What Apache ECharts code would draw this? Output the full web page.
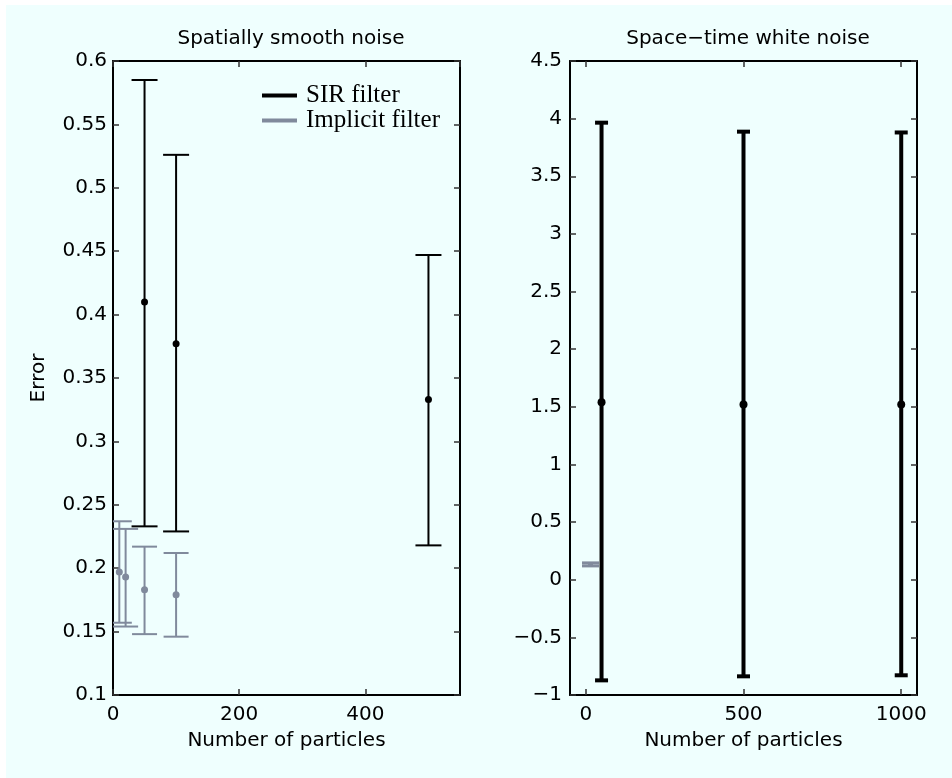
<!DOCTYPE html>
<html>
<head>
<meta charset="utf-8">
<script src="https://cdn.jsdelivr.net/npm/echarts@6/dist/echarts.min.js"></script>
<style>
    html, body { margin: 0; padding: 0; background: #ffffff; }
    #chart { width: 952px; height: 778px; }
</style>
</head>
<body>
<div id="chart"></div>
<script>
// left panel: spatially smooth noise
const smoothSirX = [50, 100, 500];
const smoothSirMean = [0.41, 0.377, 0.333];
const smoothSirLow = [0.233, 0.229, 0.218];
const smoothSirHigh = [0.585, 0.526, 0.447];

const smoothImpX = [10, 20, 50, 100];
const smoothImpMean = [0.197, 0.193, 0.183, 0.179];
const smoothImpLow = [0.157, 0.154, 0.148, 0.146];
const smoothImpHigh = [0.237, 0.231, 0.217, 0.212];

// right panel: space-time white noise
const whiteSirX = [50, 500, 1000];
const whiteSirMean = [1.54, 1.52, 1.52];
const whiteSirLow = [-0.873, -0.838, -0.829];
const whiteSirHigh = [3.965, 3.887, 3.88];

const whiteImpX = [15];
const whiteImpMean = [0.133];
const whiteImpLow = [0.12];
const whiteImpHigh = [0.146];

const rightXTicks = [0, 500, 1000];

const BLACK = '#000000';
const GREY = '#808a9c';
const FONT = 'DejaVu Sans';

const rows = (x, m, lo, hi) => x.map((v, i) => [v, m[i], lo[i], hi[i]]);

// error bar: vertical line + caps + dot at mean
const errorBar = (capHalf, lineW, dotR) => (params, api) => {
    const color = api.visual('color');
    const top = api.coord([api.value(0), api.value(3)]);
    const bot = api.coord([api.value(0), api.value(2)]);
    const mid = api.coord([api.value(0), api.value(1)]);
    const style = { stroke: color, lineWidth: lineW };
    return {
        type: 'group',
        children: [
            { type: 'line', shape: { x1: top[0], y1: top[1], x2: bot[0], y2: bot[1] }, style },
            { type: 'line', shape: { x1: top[0] - capHalf, y1: top[1], x2: top[0] + capHalf, y2: top[1] }, style },
            { type: 'line', shape: { x1: bot[0] - capHalf, y1: bot[1], x2: bot[0] + capHalf, y2: bot[1] }, style },
            { type: 'circle', shape: { cx: mid[0], cy: mid[1], r: dotR }, style: { fill: color } }
        ]
    };
};

const tickStyle = { show: true, inside: true, length: 6, lineStyle: { color: '#333', width: 1.5 } };
const lineStyle = { show: true, onZero: false, lineStyle: { color: BLACK, width: 2 } };
const labelStyle = { color: BLACK, fontFamily: FONT, fontSize: 20 };

const fmtNum = v => String(+v.toFixed(2)).replace('-', '\u2212');

const chart = echarts.init(document.getElementById('chart'));

const option = {
    animation: false,
    backgroundColor: '#ffffff',
    graphic: [{
        type: 'rect', z: -10, silent: true,
        shape: { x: 6, y: 5, width: 946, height: 773 },
        style: { fill: '#effffe' }
    }],
    title: [
        { text: 'Spatially smooth noise', left: 286, top: 24, textAlign: 'center',
          textStyle: { fontFamily: FONT, fontSize: 20, fontWeight: 'normal', color: BLACK } },
        { text: 'Space\u2212time white noise', left: 743, top: 24, textAlign: 'center',
          textStyle: { fontFamily: FONT, fontSize: 20, fontWeight: 'normal', color: BLACK } }
    ],
    legend: {
        orient: 'vertical',
        left: 257,
        top: 78,
        itemGap: 0,
        itemWidth: 35,
        itemHeight: 4,
        icon: 'rect',
        textStyle: { fontFamily: 'Liberation Serif', fontSize: 25, color: BLACK, lineHeight: 24, padding: [0, 0, 0, 4] },
        data: ['SIR filter', 'Implicit filter']
    },
    grid: [
        { left: 113, top: 61, width: 347, height: 634 },
        { left: 570, top: 61, width: 347, height: 634 }
    ],
    xAxis: [
        {
            gridIndex: 0, type: 'value', min: 0, max: 550, interval: 200,
            name: 'Number of particles', nameLocation: 'middle', nameGap: 36,
            nameTextStyle: { fontFamily: FONT, fontSize: 20, color: BLACK },
            axisLine: lineStyle, axisTick: tickStyle, splitLine: { show: false },
            axisLabel: { ...labelStyle, margin: 10, showMaxLabel: false }
        },
        {
            gridIndex: 0, type: 'value', position: 'top', min: 0, max: 550, interval: 200,
            axisLine: lineStyle, axisTick: tickStyle, axisLabel: { show: false }, splitLine: { show: false }
        },
        {
            gridIndex: 1, type: 'value', min: -50, max: 1050,
            name: 'Number of particles', nameLocation: 'middle', nameGap: 36,
            nameTextStyle: { fontFamily: FONT, fontSize: 20, color: BLACK },
            axisLine: lineStyle, splitLine: { show: false },
            axisTick: { ...tickStyle, customValues: rightXTicks },
            axisLabel: { ...labelStyle, margin: 10, customValues: rightXTicks, formatter: v => String(v) }
        },
        {
            gridIndex: 1, type: 'value', position: 'top', min: -50, max: 1050,
            axisLine: lineStyle, splitLine: { show: false }, axisLabel: { show: false },
            axisTick: { ...tickStyle, customValues: rightXTicks }
        }
    ],
    yAxis: [
        {
            gridIndex: 0, type: 'value', min: 0.1, max: 0.6, interval: 0.05,
            name: 'Error', nameLocation: 'middle', nameGap: 64, nameRotate: 90,
            nameTextStyle: { fontFamily: FONT, fontSize: 20, color: BLACK },
            axisLine: lineStyle, axisTick: tickStyle, splitLine: { show: false },
            axisLabel: { ...labelStyle, margin: 6, formatter: fmtNum }
        },
        {
            gridIndex: 0, type: 'value', position: 'right', min: 0.1, max: 0.6, interval: 0.05,
            axisLine: lineStyle, axisTick: tickStyle, axisLabel: { show: false }, splitLine: { show: false }
        },
        {
            gridIndex: 1, type: 'value', min: -1, max: 4.5, interval: 0.5,
            axisLine: lineStyle, axisTick: tickStyle, splitLine: { show: false },
            axisLabel: { ...labelStyle, margin: 8, formatter: fmtNum }
        },
        {
            gridIndex: 1, type: 'value', position: 'right', min: -1, max: 4.5, interval: 0.5,
            axisLine: lineStyle, axisTick: tickStyle, axisLabel: { show: false }, splitLine: { show: false }
        }
    ],
    series: [
        {
            name: 'Implicit filter', type: 'custom', xAxisIndex: 0, yAxisIndex: 0, clip: true,
            itemStyle: { color: GREY },
            renderItem: errorBar(12.5, 2, 3.5),
            encode: { x: 0, y: [1, 2, 3] },
            data: rows(smoothImpX, smoothImpMean, smoothImpLow, smoothImpHigh)
        },
        {
            name: 'SIR filter', type: 'custom', xAxisIndex: 0, yAxisIndex: 0, clip: true,
            itemStyle: { color: BLACK },
            renderItem: errorBar(13, 2, 3.5),
            encode: { x: 0, y: [1, 2, 3] },
            data: rows(smoothSirX, smoothSirMean, smoothSirLow, smoothSirHigh)
        },
        {
            name: 'Implicit filter', type: 'custom', xAxisIndex: 2, yAxisIndex: 2, clip: true,
            itemStyle: { color: GREY },
            renderItem: errorBar(8.5, 3, 2.5),
            encode: { x: 0, y: [1, 2, 3] },
            data: rows(whiteImpX, whiteImpMean, whiteImpLow, whiteImpHigh)
        },
        {
            name: 'SIR filter', type: 'custom', xAxisIndex: 2, yAxisIndex: 2, clip: true,
            itemStyle: { color: BLACK },
            renderItem: errorBar(6.5, 4, 4),
            encode: { x: 0, y: [1, 2, 3] },
            data: rows(whiteSirX, whiteSirMean, whiteSirLow, whiteSirHigh)
        }
    ]
};

chart.setOption(option);
</script>
</body>
</html>
